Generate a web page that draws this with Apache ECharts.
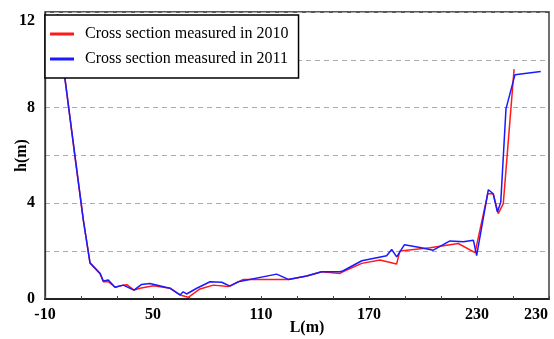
<!DOCTYPE html>
<html>
<head>
<meta charset="utf-8">
<script src="https://cdn.jsdelivr.net/npm/echarts@6/dist/echarts.min.js"></script>
<style>
  html, body { margin: 0; padding: 0; background: #fff; }
  #chart { width: 554px; height: 339px; }
</style>
</head>
<body>
<div id="chart"></div>
<script>
// Distance along the cross section (m) and bed height (m) for each survey
const dist2010 = [-3, 1.1, 6.7, 11.3, 15, 20.6, 22.4, 25.2, 28.9, 33.5, 35.5, 39.4, 42.8, 50.2, 59.4, 65, 69.6, 76.1, 83.5, 91.8, 100.2, 123.3, 125.2, 135.4, 143.7, 153.9, 155.7, 166, 176.1, 185.3, 187.2, 203.9, 219.6, 228.9, 236, 239, 241.8, 244.6, 250.6];
const height2010 = [11.9, 9.2, 5.9, 3.3, 1.51, 1.05, 0.72, 0.72, 0.49, 0.58, 0.6, 0.37, 0.45, 0.55, 0.45, 0.17, 0.07, 0.42, 0.58, 0.52, 0.82, 0.82, 0.82, 0.96, 1.14, 1.07, 1.15, 1.49, 1.63, 1.46, 2.01, 2.14, 2.32, 1.94, 4.4, 4.4, 3.57, 3.99, 9.61];

const dist2011 = [-3, 1.1, 6.7, 11.3, 15, 20.6, 22.4, 25.2, 28.9, 33.5, 39.4, 43.7, 48.3, 59.4, 65, 66.8, 68.7, 74.3, 81.7, 88.2, 92.8, 97.4, 118.7, 125.2, 135.4, 143.7, 153.9, 155.7, 166, 179.8, 182.6, 185.4, 189.7, 198.3, 205.7, 215, 222.4, 228, 229.8, 236.3, 239, 241.3, 243.2, 246.1, 251.1, 265.4];
const height2011 = [11.9, 9.2, 5.96, 3.3, 1.51, 1.08, 0.75, 0.79, 0.49, 0.58, 0.37, 0.61, 0.65, 0.45, 0.17, 0.3, 0.21, 0.45, 0.72, 0.7, 0.54, 0.72, 1.04, 0.82, 0.96, 1.14, 1.14, 1.18, 1.6, 1.81, 2.07, 1.76, 2.27, 2.15, 2.04, 2.43, 2.39, 2.46, 1.81, 4.57, 4.4, 3.64, 4.05, 7.95, 9.38, 9.51];

const seriesNames = ['Cross section measured in 2010', 'Cross section measured in 2011'];

// Axis ticks and labels along L
const xTicks = [-10, 10, 30, 50, 70, 90, 110, 130, 150, 170, 190, 210, 230, 250, 270];
const xLabelValues = [-10, 50, 110, 170, 230, 270];
const xLabelTexts = ['-10', '50', '110', '170', '230', '230'];
const yLabelValues = [0, 4, 8, 12];

const pairs = (xs, ys) => xs.map((x, i) => [x, ys[i]]);

const serif = 'Liberation Serif, Times New Roman, serif';
const chart = echarts.init(document.getElementById('chart'));

chart.setOption({
  animation: false,
  backgroundColor: '#fff',
  grid: {
    left: 45, right: 5, top: 12, bottom: 40,
    containLabel: false,
    outerBoundsMode: 'none',
    show: true, borderColor: '#222', borderWidth: 1.3
  },
  legend: {
    orient: 'vertical',
    left: 45, top: 15,
    backgroundColor: '#fff',
    borderColor: '#000', borderWidth: 1.5, borderRadius: 0,
    padding: [11, 10, 11, 5],
    itemGap: 9,
    itemWidth: 24, itemHeight: 3,
    icon: 'rect',
    textStyle: { fontFamily: serif, fontSize: 16, color: '#000', padding: [0, 0, 0, 6] },
    data: seriesNames
  },
  xAxis: {
    type: 'value',
    min: -10, max: 270,
    name: 'L(m)',
    nameLocation: 'middle',
    nameMoveOverlap: false,
    nameGap: 21,
    nameTextStyle: { fontFamily: serif, fontSize: 16, fontWeight: 'bold', color: '#000', verticalAlign: 'top', padding: [0, 0, 0, 20] },
    axisLine: { show: true, onZero: false, lineStyle: { color: '#222', width: 2 } },
    axisTick: { show: true, inside: true, length: 3, customValues: xTicks, lineStyle: { color: '#444' } },
    axisLabel: {
      customValues: xLabelValues,
      margin: 8,
      fontFamily: serif, fontSize: 16, fontWeight: 'bold', color: '#000',
      formatter: v => {
        const t = xLabelTexts[xLabelValues.indexOf(v)];
        return v === 270 ? '{edge|' + t + '}' : t;
      },
      rich: { edge: { fontFamily: serif, fontSize: 16, fontWeight: 'bold', color: '#000', padding: [0, 26, 0, 0] } }
    },
    splitLine: { show: false }
  },
  yAxis: {
    type: 'value',
    min: 0, max: 12, interval: 2,
    name: 'h(m)',
    nameLocation: 'middle',
    nameMoveOverlap: false,
    nameGap: 23,
    nameRotate: 90,
    nameTextStyle: { fontFamily: serif, fontSize: 16, fontWeight: 'bold', color: '#000', verticalAlign: 'middle' },
    axisLine: { show: true, onZero: false, lineStyle: { color: '#333', width: 1.3 } },
    axisTick: { show: false },
    axisLabel: {
      margin: 10,
      fontFamily: serif, fontSize: 16, fontWeight: 'bold', color: '#000',
      formatter: v => {
        if (yLabelValues.indexOf(v) < 0) return '';
        return v === 12 ? '{top|12}' : String(v);
      },
      rich: { top: { fontFamily: serif, fontSize: 16, fontWeight: 'bold', color: '#000', padding: [18, 0, 0, 0] } }
    },
    splitLine: { show: true, lineStyle: { color: '#aaa', type: [5, 4], width: 1 } }
  },
  series: [
    {
      name: seriesNames[0], type: 'line', data: pairs(dist2010, height2010),
      showSymbol: false, symbol: 'none', color: '#ff1a1a',
      lineStyle: { width: 1.5, color: '#ff1a1a' }
    },
    {
      name: seriesNames[1], type: 'line', data: pairs(dist2011, height2011),
      showSymbol: false, symbol: 'none', color: '#1a1aff',
      lineStyle: { width: 1.5, color: '#1a1aff' }
    }
  ]
});
</script>
</body>
</html>
